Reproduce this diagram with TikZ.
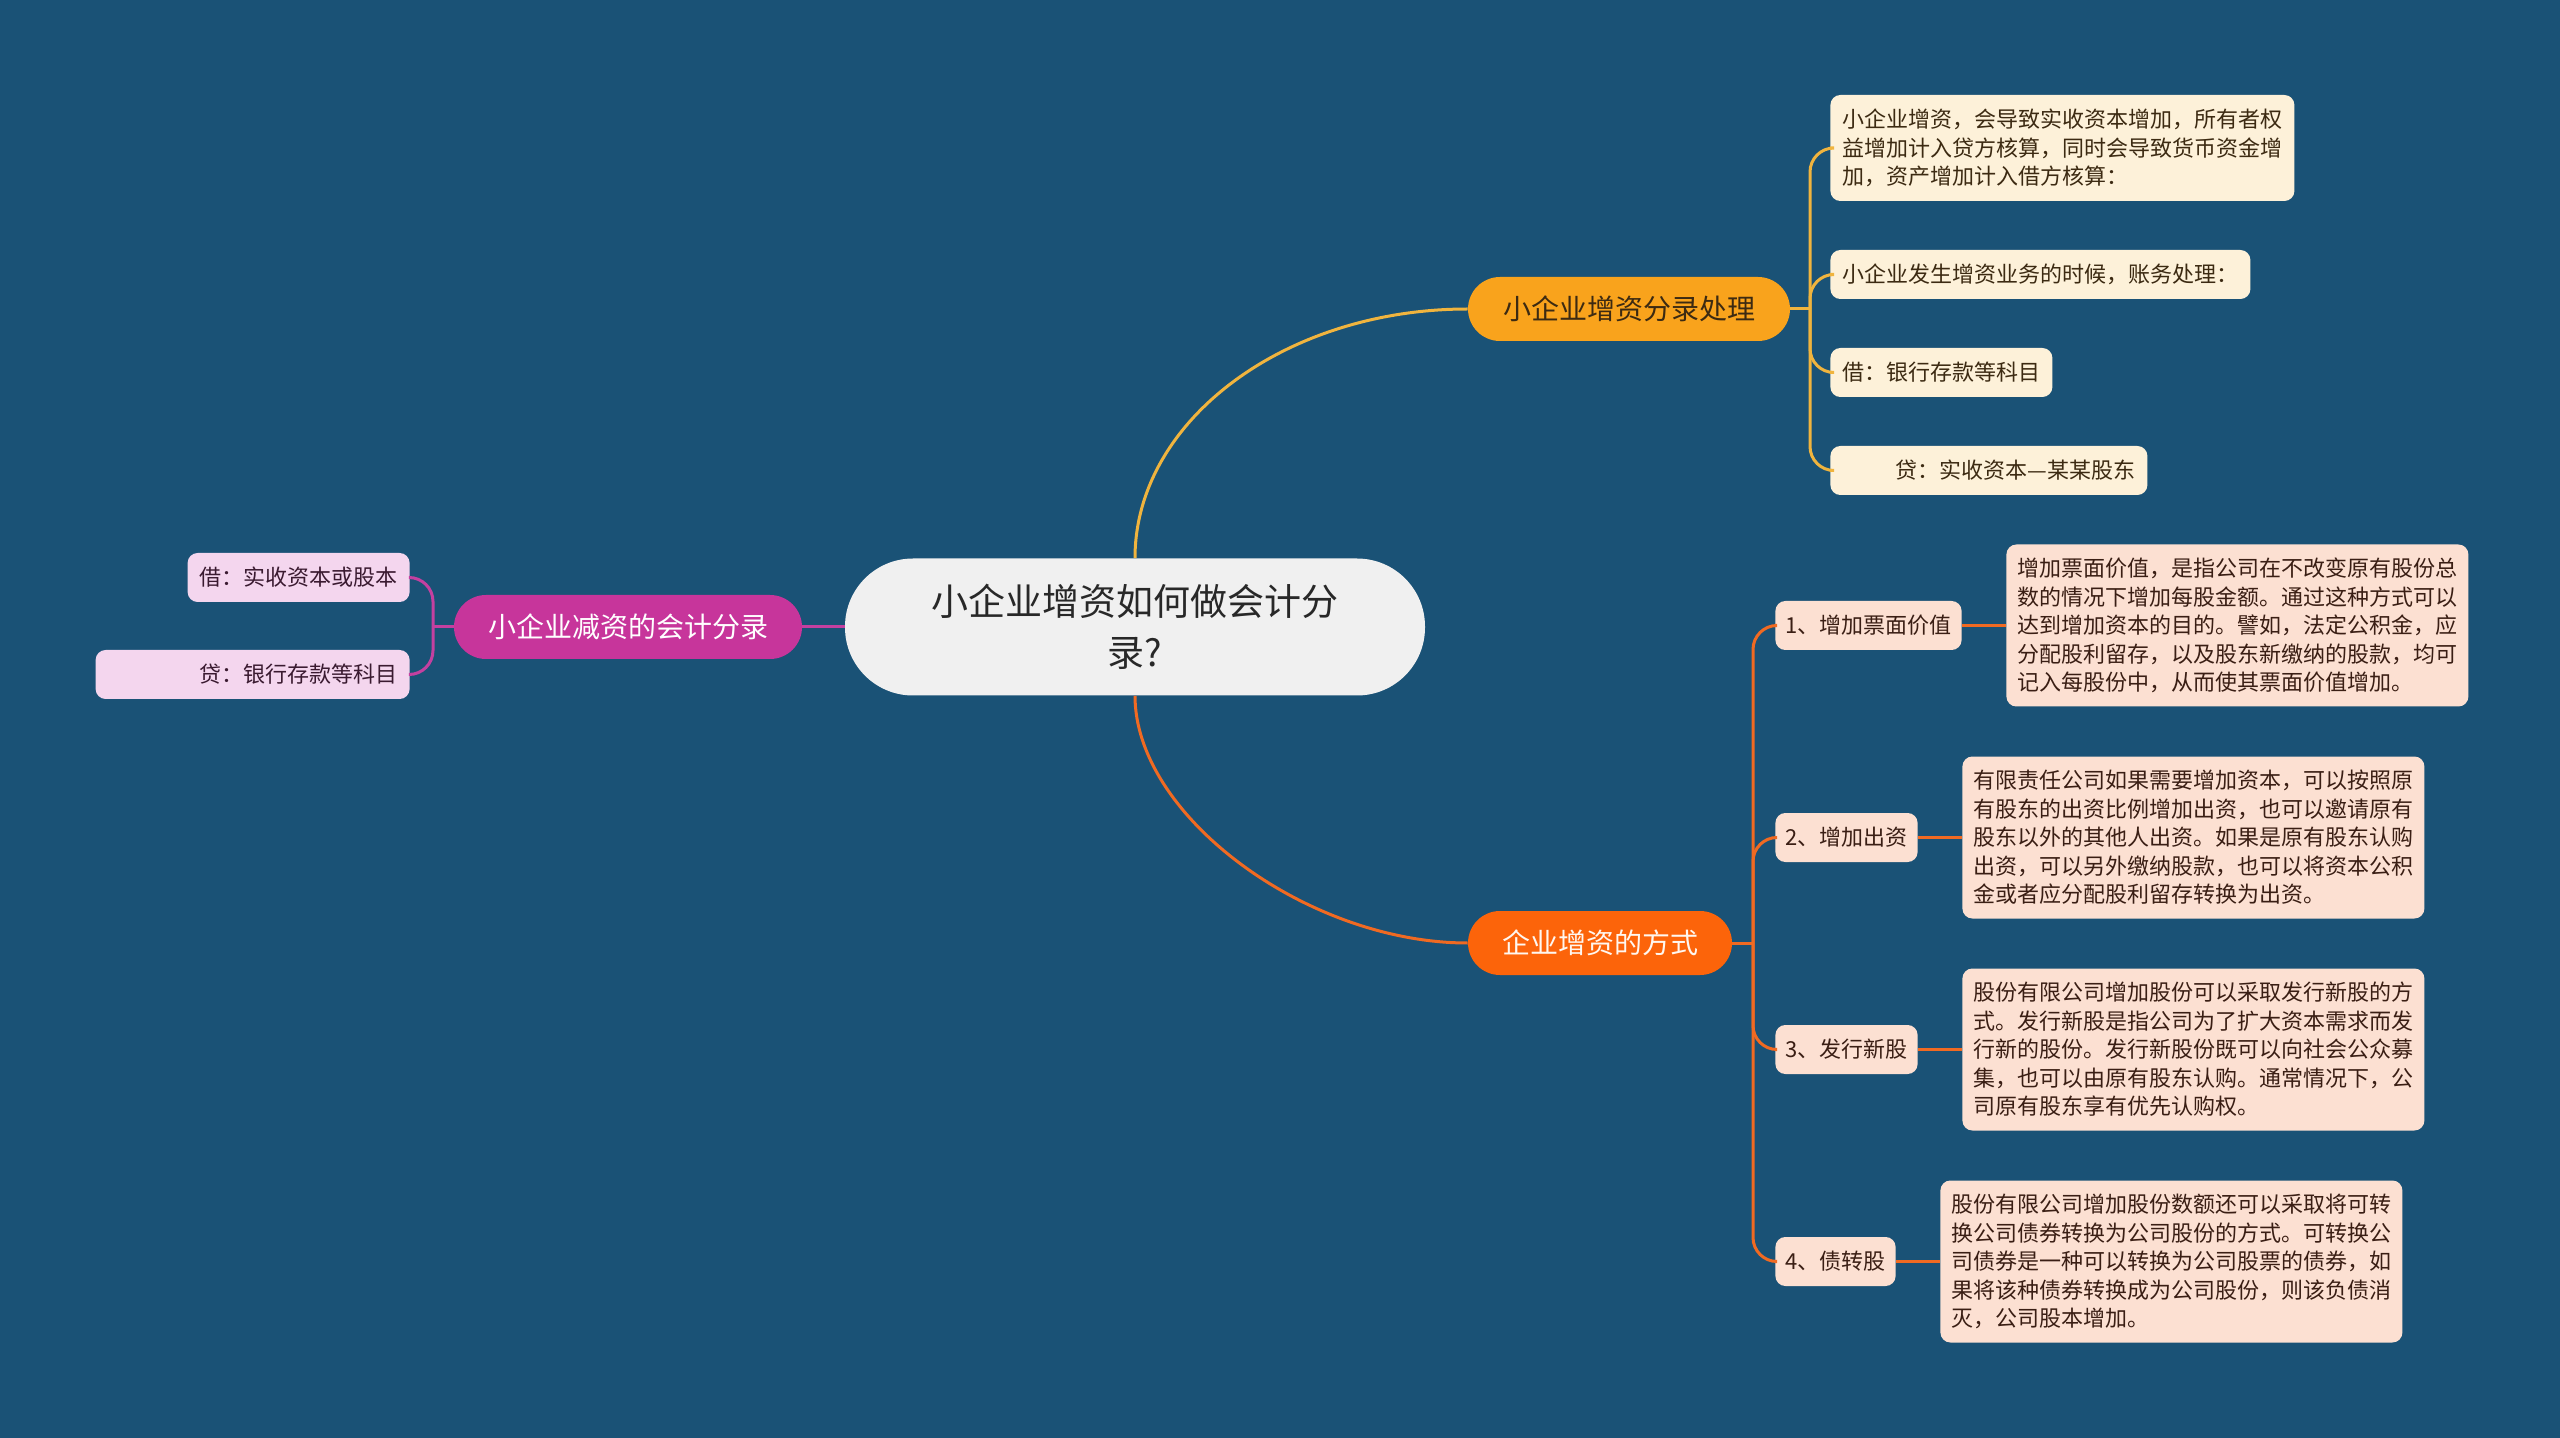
\documentclass[tikz,border=0pt]{standalone}
\usepackage{fontspec}
\setmainfont{Noto Sans CJK SC}
\usetikzlibrary{positioning}

\definecolor{bgblue}{RGB}{26,82,118}
\definecolor{rootfill}{RGB}{240,240,240}
\definecolor{roottext}{RGB}{40,40,40}
\definecolor{incfill}{RGB}{249,163,28}
\definecolor{incline}{RGB}{240,180,62}
\definecolor{incleaff}{RGB}{253,241,217}
\definecolor{inctext}{RGB}{60,42,18}
\definecolor{wayfill}{RGB}{252,100,10}
\definecolor{wayline}{RGB}{240,106,34}
\definecolor{wayleaff}{RGB}{252,224,210}
\definecolor{waytext}{RGB}{58,30,20}
\definecolor{decfill}{RGB}{199,53,155}
\definecolor{decline}{RGB}{196,64,160}
\definecolor{decleaff}{RGB}{244,214,238}
\definecolor{dectext}{RGB}{58,26,48}

\begin{document}
\begin{tikzpicture}[
  x=0.5pt, y=0.5pt,
  font=\fontsize{11pt}{14.25pt}\selectfont,
  rootbox/.style={fill=rootfill, text=roottext, rounded corners=34pt,
    minimum width=290pt, minimum height=68.5pt, align=center,
    font=\fontsize{18.5pt}{25.3pt}\selectfont},
  branchbox/.style={rounded corners=16pt, minimum height=32pt,
    font=\fontsize{14pt}{17pt}\selectfont},
  leafbox/.style={rounded corners=5pt, inner xsep=6pt, inner ysep=0pt,
    minimum height=24.5pt, align=left},
  incleaf/.style={leafbox, fill=incleaff, text=inctext, anchor=west},
  decleaf/.style={leafbox, fill=decleaff, text=dectext, anchor=east},
  wayleaf/.style={leafbox, fill=wayleaff, text=waytext, anchor=west, inner xsep=5pt},
  waydetail/.style={leafbox, fill=wayleaff, text=waytext, inner xsep=5.5pt,
    minimum height=81pt},
  incwire/.style={draw=incline, line width=1.5pt},
  waywire/.style={draw=wayline, line width=1.5pt},
  decwire/.style={draw=decline, line width=1.5pt},
]

% Geometry (pixel units of the 2560x1438 canvas, y downwards as -y)
\def\incX{1830}   % left edge of the upper right leaves
\def\wayX{1775}   % left edge of the numbered items

% ── Canvas ──────────────────────────────────────────────────────────────
\fill[bgblue] (0,0) rectangle (2560,-1438);
\useasboundingbox (0,0) rectangle (2560,-1438);

% ── Centre and the three branches ───────────────────────────────────────
\node[rootbox] (root) at (1135,-627) {小企业增资如何做会计分\\录?};

\node[branchbox, fill=incfill, text=inctext, minimum width=161pt]
  (inc) at (1629,-309) {小企业增资分录处理};
\node[branchbox, fill=wayfill, text=white!94!orange, minimum width=132pt]
  (way) at (1600,-943) {企业增资的方式};
\node[branchbox, fill=decfill, text=white, minimum width=174pt]
  (dec) at (628,-627) {小企业减资的会计分录};

\draw[incwire] (root.north) .. controls +(0,137) and +(-183,0) .. (inc.west);
\draw[waywire] (root.south) .. controls +(0,-120) and +(-160,0) .. (way.west);
\draw[decwire] (root.west) -- (dec.east);

% ── Upper right: entries for the increase ──────────────────────────────
\coordinate (incj) at (1810,-309);
\node[incleaf, minimum height=53pt] (inc1) at (\incX,-148)
  {小企业增资，会导致实收资本增加，所有者权\\
   益增加计入贷方核算，同时会导致货币资金增\\
   加，资产增加计入借方核算：};
\node[incleaf] (inc2) at (\incX,-274.5) {小企业发生增资业务的时候，账务处理：};
\node[incleaf] (inc3) at (\incX,-372.5) {借：银行存款等科目};
\node[incleaf, text width=146.5pt, align=right] (inc4) at (\incX,-470.5)
  {贷：实收资本—某某股东};

\draw[incwire] (inc.east) -- (incj);
\foreach \k in {1,...,4} {
  \draw[incwire, rounded corners=12pt] (incj) |- (inc\k.west);
}

% ── Lower right: the four ways, each with its note ─────────────────────
\coordinate (wayj) at (1753,-943);
\draw[waywire] (way.east) -- (wayj);

\foreach \i/\lbl/\y/\txt in {
  1/{1、增加票面价值}/625.5/{增加票面价值，是指公司在不改变原有股份总\\
     数的情况下增加每股金额。通过这种方式可以\\
     达到增加资本的目的。譬如，法定公积金，应\\
     分配股利留存，以及股东新缴纳的股款，均可\\
     记入每股份中，从而使其票面价值增加。},
  2/{2、增加出资}/837.5/{有限责任公司如果需要增加资本，可以按照原\\
     有股东的出资比例增加出资，也可以邀请原有\\
     股东以外的其他人出资。如果是原有股东认购\\
     出资，可以另外缴纳股款，也可以将资本公积\\
     金或者应分配股利留存转换为出资。},
  3/{3、发行新股}/1049.5/{股份有限公司增加股份可以采取发行新股的方\\
     式。发行新股是指公司为了扩大资本需求而发\\
     行新的股份。发行新股份既可以向社会公众募\\
     集，也可以由原有股东认购。通常情况下，公\\
     司原有股东享有优先认购权。},
  4/{4、债转股}/1261.5/{股份有限公司增加股份数额还可以采取将可转\\
     换公司债券转换为公司股份的方式。可转换公\\
     司债券是一种可以转换为公司股票的债券，如\\
     果将该种债券转换成为公司股份，则该负债消\\
     灭，公司股本增加。}%
} {
  \node[wayleaf] (way\i) at (\wayX,-\y) {\lbl};
  \node[waydetail, right=22pt of way\i] (wayd\i) {\txt};
  \draw[waywire] (way\i.east) -- (wayd\i.west);
  \draw[waywire, rounded corners=12pt] (wayj) |- (way\i.west);
}

% ── Left: entries for the decrease ──────────────────────────────────────
\coordinate (decj) at (433,-627);
\node[decleaf] (dec1) at (410,-577.5) {借：实收资本或股本};
\node[decleaf, text width=145pt, align=right] (dec2) at (410,-674.5)
  {贷：银行存款等科目};

\draw[decwire] (dec.west) -- (decj);
\draw[decwire, rounded corners=12pt] (decj) |- (dec1.east);
\draw[decwire, rounded corners=12pt] (decj) |- (dec2.east);

\end{tikzpicture}
\end{document}
